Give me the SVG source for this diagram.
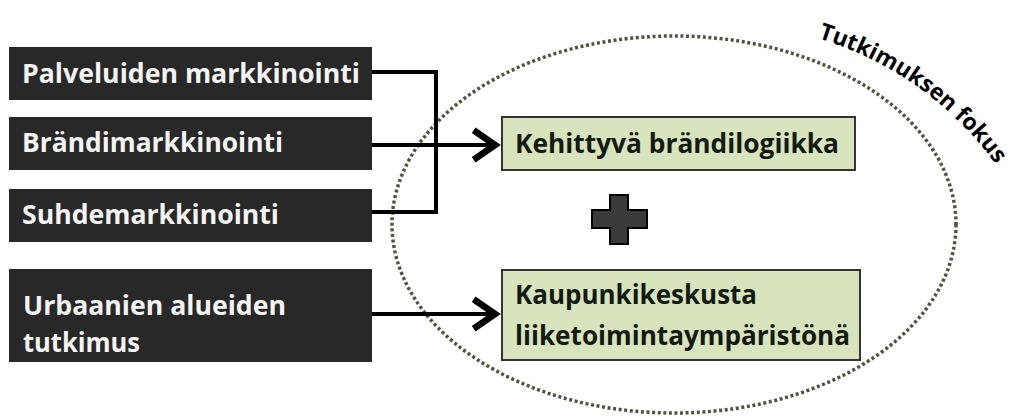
<svg xmlns="http://www.w3.org/2000/svg" width="1019" height="416" viewBox="0 0 1019 416">
<style>
.dark{fill:#282828;}
.dt{font-family:"Open Sans","Liberation Sans",sans-serif;font-weight:bold;font-size:26px;fill:#f4f4f4;}
.green{fill:#d7e4bd;stroke:#333;stroke-width:2;}
.gt{font-family:"Open Sans","Liberation Sans",sans-serif;font-weight:bold;font-size:26px;fill:#141a10;}
.conn{fill:none;stroke:#000;stroke-width:4;}
.focus{font-family:"Open Sans","Liberation Sans",sans-serif;font-weight:bold;font-size:23px;fill:#000;}
</style>
<defs>
<marker id="arr" markerUnits="userSpaceOnUse" markerWidth="40" markerHeight="40" viewBox="-20 -15 30 30" refX="0" refY="0" orient="auto" overflow="visible">
<path d="M-16,-11 L0,0 L-16,11" fill="none" stroke="#000" stroke-width="5"/>
</marker>
<path id="arc" d="M818,38 Q932,74 1000,170"/>
</defs>
<rect width="1019" height="416" fill="#fff"/>
<g id="focus-area">
<ellipse cx="674" cy="224.5" rx="282" ry="188.5" fill="none" stroke="#4f5540" stroke-width="3.5" stroke-dasharray="3 2.6"/>
<text class="focus"><textPath href="#arc" textLength="222" lengthAdjust="spacingAndGlyphs">Tutkimuksen fokus</textPath></text>
</g>
<g id="connectors">
<path class="conn" d="M372,72 H436 V212 H372"/>
<path class="conn" d="M372,145 H495" marker-end="url(#arr)"/>
<path class="conn" d="M372,314 H495" marker-end="url(#arr)"/>
</g>
<g id="n1"><rect class="dark" x="9" y="47" width="363" height="53"/><text class="dt" x="22" y="83" textLength="338" lengthAdjust="spacingAndGlyphs">Palveluiden markkinointi</text></g>
<g id="n2"><rect class="dark" x="9" y="117" width="363" height="53"/><text class="dt" x="22" y="152" textLength="261" lengthAdjust="spacingAndGlyphs">Brändimarkkinointi</text></g>
<g id="n3"><rect class="dark" x="9" y="189" width="363" height="53"/><text class="dt" x="22" y="224" textLength="257" lengthAdjust="spacingAndGlyphs">Suhdemarkkinointi</text></g>
<g id="n4"><rect class="dark" x="9" y="269" width="363" height="93"/><text class="dt" x="23" y="315" textLength="263" lengthAdjust="spacingAndGlyphs">Urbaanien alueiden</text><text class="dt" x="23" y="352" textLength="117" lengthAdjust="spacingAndGlyphs">tutkimus</text></g>
<g id="n5"><rect class="green" x="502" y="117" width="353" height="53"/><text class="gt" x="515" y="153" textLength="324" lengthAdjust="spacingAndGlyphs">Kehittyvä brändilogiikka</text></g>
<g id="plus"><path d="M610,195 H628 V210 H647 V228 H628 V244 H610 V228 H592 V210 H610 Z" fill="#3a3a3a" stroke="#000" stroke-width="2"/></g>
<g id="n6"><rect class="green" x="502" y="270" width="358" height="90"/><text class="gt" x="515" y="304" textLength="242" lengthAdjust="spacingAndGlyphs">Kaupunkikeskusta</text><text class="gt" x="515" y="345" textLength="335" lengthAdjust="spacingAndGlyphs">liiketoimintaympäristönä</text></g>
</svg>
